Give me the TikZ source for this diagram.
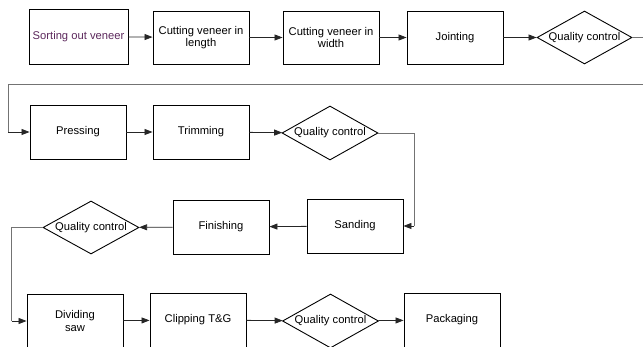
\documentclass[tikz,border=0pt]{standalone}
\usepackage{fontspec}
\setmainfont{Liberation Sans}
\usetikzlibrary{shapes.geometric,arrows.meta,calc}
\definecolor{plum}{RGB}{92,40,92}
\begin{document}
\begin{tikzpicture}[x=1pt,y=-1pt,
  font=\fontsize{11.2}{12.5}\selectfont,
  box/.style={draw=black,line width=0.9pt,rectangle,minimum width=96pt,minimum height=54pt,inner sep=0pt,align=center},
  qc/.style={draw=black,line width=0.9pt,diamond,aspect=1.78,minimum width=96pt,minimum height=54pt,inner sep=0pt,align=center},
  conn/.style={draw=black!85,line width=0.8pt,-{Triangle[length=8pt,width=6pt]}},
  route/.style={draw=black!55,line width=0.7pt}]
\useasboundingbox (0,0) rectangle (643,347);
\clip (0,0) rectangle (643,347);
% row 1
\node[box,minimum width=99pt,minimum height=55pt,text=plum] (sort) at (78.5,36.5) {Sorting out veneer};
\node[box,minimum height=53pt] (cut1) at (201,37.5) {Cutting veneer in\\length};
\node[box,minimum height=53pt] (cut2) at (331,37.5) {Cutting veneer in\\width};
\node[box,minimum height=53pt] (joint) at (455,37.5) {Jointing};
\node[qc,minimum width=95pt,minimum height=53pt] (q1) at (584.5,37.5) {Quality control};
% row 2
\node[box] (press) at (78,132) {Pressing};
\node[box] (trim) at (201,132) {Trimming};
\node[qc] (q2) at (330,133) {Quality control};
% row 3
\node[box] (sand) at (355,226) {Sanding};
\node[box] (fin) at (221,227) {Finishing};
\node[qc,minimum height=53pt] (q3) at (91,227.5) {Quality control};
% row 4
\node[box] (div) at (75,321) {Dividing\\saw};
\node[box] (clip) at (198,320) {Clipping T\&G};
\node[qc] (q4) at (330.5,321) {Quality control};
\node[box] (pack) at (452,320) {Packaging};
% connectors
\coordinate (rt) at (660,37.5);
\coordinate (rb) at (660,84);
\coordinate (lb) at (8,84);
\coordinate (lp) at (8,132);
\draw[conn] (sort) -- (cut1);
\draw[conn] (cut1) -- (cut2);
\draw[conn] (cut2) -- (joint);
\draw[conn] (joint) -- (q1);
\draw[route] (q1.east) -- (rt) -- (rb) -- (lb) -- (lp);
\draw[conn] (lp) -- (press.west);
\draw[conn] (press) -- (trim);
\draw[conn] (trim) -- (q2);
\coordinate (sr) at ($(sand.east)+(11,0)$);
\draw[route] (q2.east) -| (sr);
\draw[conn] (sr) -- (sand.east);
\draw[conn] (sand) -- (fin);
\draw[conn] (fin) -- (q3);
\coordinate (dl) at ($(div.west)+(-15,0)$);
\draw[route] (q3.west) -| (dl);
\draw[conn] (dl) -- (div.west);
\draw[conn] (div) -- (clip);
\draw[conn] (clip) -- (q4);
\draw[conn] (q4) -- (pack);
\end{tikzpicture}
\end{document}
